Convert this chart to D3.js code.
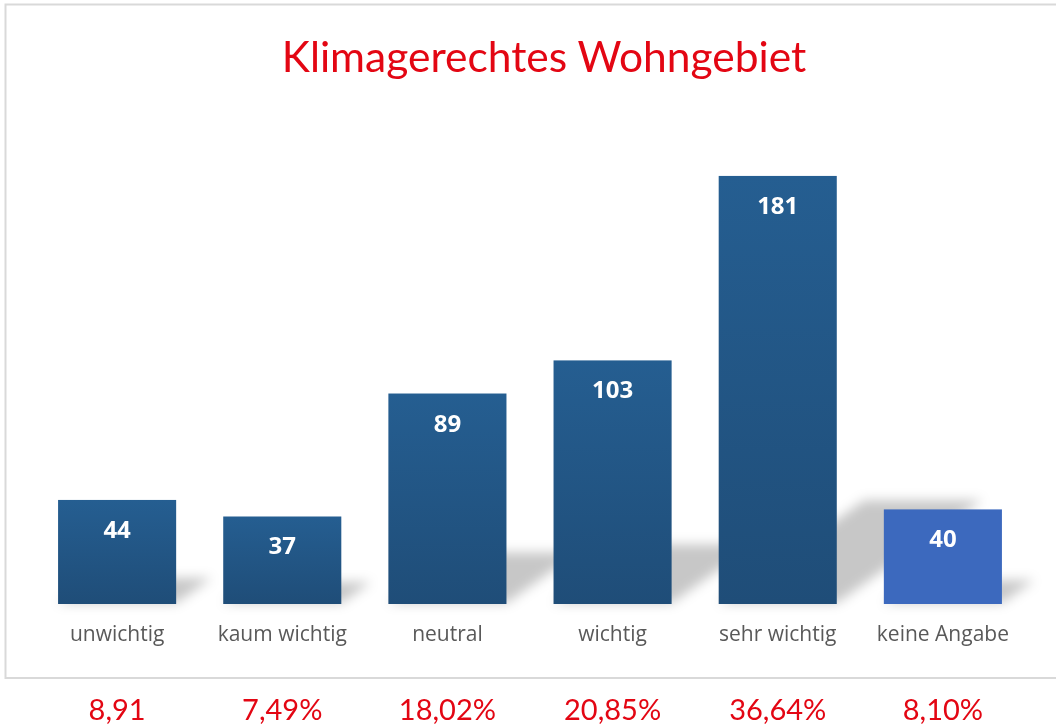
<!DOCTYPE html>
<html><head><meta charset="utf-8">
<script src="https://cdn.jsdelivr.net/npm/d3@7"></script>
<style>html,body{margin:0;padding:0;background:#fff;overflow:hidden}</style>
</head><body>
<svg id="c" width="1056" height="728"></svg>
<script>
const title = "Klimagerechtes Wohngebiet";
const categories = ["unwichtig","kaum wichtig","neutral","wichtig","sehr wichtig","keine Angabe"];
const values = [44,37,89,103,181,40];
const percentLabels = ["8,91","7,49%","18,02%","20,85%","36,64%","8,10%"];
const highlight = [false,false,false,false,false,true];

const svg = d3.select("#c");
const font = "Lato, 'Open Sans', sans-serif";
const font2 = "'Open Sans', 'Noto Sans', sans-serif";

// frame
svg.append("rect").attr("x",5.5).attr("y",4.5).attr("width",1078).attr("height",673.5)
  .attr("fill","#fff").attr("stroke","#d9d9d9").attr("stroke-width",2);

const defs = svg.append("defs");
const g1 = defs.append("linearGradient").attr("id","barGrad").attr("x1",0).attr("y1",0).attr("x2",0).attr("y2",1);
g1.append("stop").attr("offset","0%").attr("stop-color","#255e91");
g1.append("stop").attr("offset","100%").attr("stop-color","#1f4d78");
const f = defs.append("filter").attr("id","blur").attr("x","-50%").attr("y","-50%").attr("width","200%").attr("height","200%");
f.append("feGaussianBlur").attr("stdDeviation",6);

const x = d3.scaleBand().domain(categories).range([11,1049]).paddingInner(0.285).paddingOuter(0.285);
const y = d3.scaleLinear().domain([0,200]).range([604,604-473]);

// shadows
const shadowG = svg.append("g").attr("filter","url(#blur)");
categories.forEach((c,i)=>{
  const x0 = x(c), x1 = x(c)+x.bandwidth();
  const h = y(0)-y(values[i]);
  const sh = h*0.24, off = h*0.34;
  const b = y(0)-1;
  shadowG.append("path")
    .attr("d",`M${x0},${b}L${x1},${b}L${x1+off},${b-sh}L${x0+off},${b-sh}Z`)
    .attr("fill","#000").attr("opacity",0.22);
});

// bars
svg.append("g").selectAll("rect").data(categories).join("rect")
  .attr("x",d=>x(d)).attr("width",x.bandwidth())
  .attr("y",(d,i)=>y(values[i])).attr("height",(d,i)=>y(0)-y(values[i]))
  .attr("fill",(d,i)=>highlight[i]?"#3c69be":"url(#barGrad)");

// value labels
svg.append("g").selectAll("text").data(categories).join("text")
  .attr("x",d=>x(d)+x.bandwidth()/2).attr("y",(d,i)=>y(values[i])+38)
  .attr("text-anchor","middle").attr("font-family",font2).attr("font-weight","bold")
  .attr("font-size",24).attr("fill","#fff").text((d,i)=>values[i]);

// category axis labels
svg.append("g").selectAll("text").data(categories).join("text")
  .attr("x",d=>x(d)+x.bandwidth()/2).attr("y",641)
  .attr("text-anchor","middle").attr("font-family",font2)
  .attr("font-size",21).attr("fill","#595959").text(d=>d);

// percentages
svg.append("g").selectAll("text").data(categories).join("text")
  .attr("x",d=>x(d)+x.bandwidth()/2).attr("y",720)
  .attr("text-anchor","middle").attr("font-family",font)
  .attr("font-size",29).attr("fill","#e30613").text((d,i)=>percentLabels[i]);

// title
svg.append("text").attr("x",544).attr("y",72).attr("text-anchor","middle")
  .attr("font-family",font).attr("font-size",42.5).attr("fill","#e30613").text(title);
</script>
</body></html>
